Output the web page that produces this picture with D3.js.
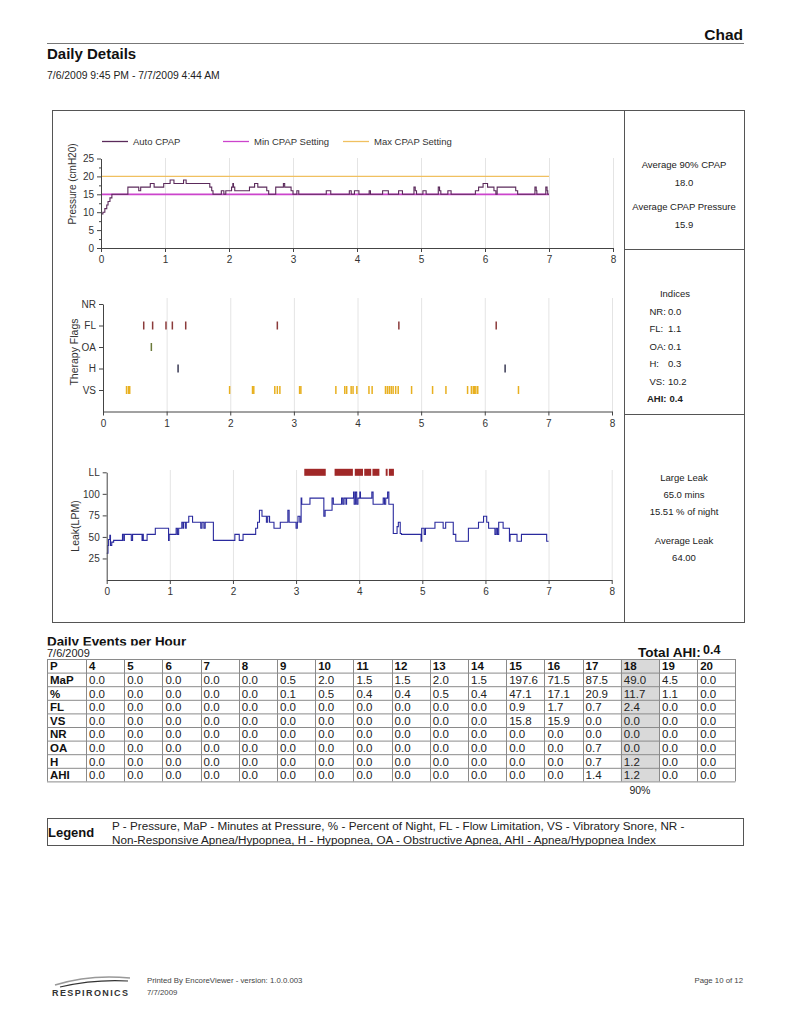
<!DOCTYPE html>
<html><head><meta charset="utf-8">
<script src="https://cdn.jsdelivr.net/npm/d3@7"></script>
<style>
body{margin:0;background:#fff}
svg{display:block}
text{font-family:"Liberation Sans",Arial,sans-serif}
</style></head>
<body><svg id="c" width="791" height="1024"></svg>
<script>
// ---------------- DATA ----------------
const pressureTime = [0,0.03,0.06,0.09,0.11,0.14,0.17,0.42,0.59,0.62,0.77,0.83,0.98,1.08,1.14,1.29,1.33,1.70,1.73,1.75,1.88,1.92,1.95,2.04,2.06,2.07,2.09,2.32,2.40,2.45,2.59,2.62,2.73,2.85,2.87,2.97,3.0,3.06,3.09,3.52,3.59,3.88,3.91,3.96,4.03,4.19,4.21,4.40,4.49,4.65,4.71,4.89,4.91,4.93,5.03,5.08,5.27,5.29,5.31,5.42,5.47,5.85,5.90,5.97,6.04,6.14,6.17,6.19,6.48,6.51,6.78,6.80,6.81,6.95,6.97,6.98,7.0];
const pressureValue = [9.5,10,11,12,13,14,15,17,16,17,18,17,18,19,18,19,18,17,16,15,16,15,16,17,18,17,16,17,18,17,16,15,17,18,17,16,15,16,15,16,15,16,15,16,15,16,15,16,15,16,15,17,16,15,16,15,17,16,15,16,15,16,17,18,17,16,15,17,16,15,17,16,15,17,16,15,15];
const minCpapSetting = 15;
const maxCpapSetting = 20;
const sessionHours = [0, 7];

const flagCategories = ["VS","H","OA","FL","NR"];
const flagFL = [0.64,0.78,0.99,1.09,1.30,2.74,4.65,6.18];
const flagOA = [0.76];
const flagH  = [1.18,6.32];
const flagNR = [];
const flagVS = [0.37,0.40,0.42,1.99,2.35,2.37,2.70,2.74,2.78,3.09,3.11,3.66,3.80,3.83,3.90,3.93,3.99,4.18,4.23,4.44,4.47,4.50,4.53,4.56,4.60,4.64,4.85,5.18,5.39,5.73,5.79,5.82,5.84,5.86,5.89,6.53];

const leakTime  = [0,0.02,0.03,0.05,0.06,0.08,0.11,0.25,0.27,0.28,0.39,0.41,0.56,0.57,0.58,0.64,0.77,0.98,0.99,1.10,1.12,1.14,1.19,1.21,1.22,1.25,1.26,1.30,1.36,1.49,1.51,1.54,1.56,1.69,2.03,2.10,2.16,2.36,2.39,2.42,2.46,2.53,2.55,2.58,2.65,2.75,2.87,2.89,3.00,3.02,3.03,3.06,3.08,3.09,3.22,3.44,3.46,3.57,3.59,3.72,3.74,3.76,3.79,3.80,3.91,3.92,3.94,3.96,3.98,4.01,4.02,4.20,4.22,4.38,4.40,4.42,4.45,4.47,4.54,4.60,4.62,4.65,4.67,4.98,4.99,5.03,5.05,5.20,5.33,5.37,5.49,5.53,5.73,5.89,5.97,6.02,6.05,6.15,6.17,6.19,6.21,6.28,6.38,6.39,6.50,6.57,6.97,7.0];
const leakValue = [31,40,47,52,40,44,46,53,46,53,46,53,46,53,46,53,60,46,53,60,53,60,67,60,67,60,67,74,67,60,67,60,67,46,53,46,53,60,67,81,74,67,74,67,60,67,81,67,60,67,74,67,95,88,95,74,81,95,88,95,88,95,88,95,102,88,102,88,95,102,95,102,88,95,88,95,102,88,54,62,67,54,53,45,60,53,60,67,60,67,53,45,60,67,74,67,60,53,60,53,67,60,45,53,45,53,45,45];
const largeLeakStart = [3.13,3.61,3.93,4.08,4.21,4.42,4.47];
const largeLeakEnd   = [3.47,3.90,4.06,4.19,4.32,4.45,4.55];

const xTicks = [0,1,2,3,4,5,6,7,8];
const pressureTicks = [0,5,10,15,20,25];
const leakTicks = [25,50,75,100,125];
const leakTickLabels = ["25","50","75","100","LL"];

const tableHours = ["4","5","6","7","8","9","10","11","12","13","14","15","16","17","18","19","20"];
const rowLabels = ["MaP","%","FL","VS","NR","OA","H","AHI"];
const rowMaP = ["0.0","0.0","0.0","0.0","0.0","0.5","2.0","1.5","1.5","2.0","1.5","197.6","71.5","87.5","49.0","4.5","0.0"];
const rowPct = ["0.0","0.0","0.0","0.0","0.0","0.1","0.5","0.4","0.4","0.5","0.4","47.1","17.1","20.9","11.7","1.1","0.0"];
const rowFL  = ["0.0","0.0","0.0","0.0","0.0","0.0","0.0","0.0","0.0","0.0","0.0","0.9","1.7","0.7","2.4","0.0","0.0"];
const rowVS  = ["0.0","0.0","0.0","0.0","0.0","0.0","0.0","0.0","0.0","0.0","0.0","15.8","15.9","0.0","0.0","0.0","0.0"];
const rowNR  = ["0.0","0.0","0.0","0.0","0.0","0.0","0.0","0.0","0.0","0.0","0.0","0.0","0.0","0.0","0.0","0.0","0.0"];
const rowOA  = ["0.0","0.0","0.0","0.0","0.0","0.0","0.0","0.0","0.0","0.0","0.0","0.0","0.0","0.7","0.0","0.0","0.0"];
const rowH   = ["0.0","0.0","0.0","0.0","0.0","0.0","0.0","0.0","0.0","0.0","0.0","0.0","0.0","0.7","1.2","0.0","0.0"];
const rowAHI = ["0.0","0.0","0.0","0.0","0.0","0.0","0.0","0.0","0.0","0.0","0.0","0.0","0.0","1.4","1.2","0.0","0.0"];
const highlightHour = "18";

// ---------------- DRAW ----------------
const svg = d3.select("#c");
const TXT = "#222";

// Header
svg.append("text").attr("x",743).attr("y",40).attr("text-anchor","end")
  .style("font-size","15.5px").style("font-weight","bold").attr("fill","#111").text("Chad");
svg.append("line").attr("x1",47).attr("x2",744).attr("y1",43.5).attr("y2",43.5).attr("stroke","#777");
svg.append("text").attr("x",47).attr("y",59).style("font-size","15px").style("font-weight","bold").attr("fill","#111").text("Daily Details");
svg.append("text").attr("x",47).attr("y",79).style("font-size","10.4px").attr("fill",TXT).text("7/6/2009 9:45 PM - 7/7/2009 4:44 AM");

// Frame
svg.append("rect").attr("x",52.5).attr("y",110.5).attr("width",692).attr("height",512).attr("fill","none").attr("stroke","#555");
svg.append("line").attr("x1",624.5).attr("x2",624.5).attr("y1",110.5).attr("y2",622.5).attr("stroke","#555");
svg.append("line").attr("x1",624.5).attr("x2",744.5).attr("y1",249.5).attr("y2",249.5).attr("stroke","#555");
svg.append("line").attr("x1",624.5).attr("x2",744.5).attr("y1",414.5).attr("y2",414.5).attr("stroke","#555");

function styleAxis(g){
  g.select(".domain").attr("stroke","#444");
  g.selectAll(".tick line").attr("stroke","#444");
  g.selectAll(".tick text").attr("fill","#333").style("font-size","10px").style("font-family","'Liberation Sans',Arial,sans-serif");
}
function grid(g, x, y0, y1){
  g.selectAll("line.grid").data(xTicks.filter(d=>d>0)).enter().append("line")
    .attr("x1",d=>x(d)+0.5).attr("x2",d=>x(d)+0.5).attr("y1",y0).attr("y2",y1)
    .attr("stroke","#e4e4e4");
}
function xAxis(x, yPos){
  const g = svg.append("g").attr("transform",`translate(0,${yPos})`)
    .call(d3.axisBottom(x).tickValues(xTicks).tickSize(4).tickSizeOuter(0).tickPadding(4));
  styleAxis(g);
}
function yTitle(label, cx, cy, fs){
  svg.append("text").attr("transform",`translate(${cx},${cy}) rotate(-90)`).attr("text-anchor","middle")
    .style("font-size",fs+"px").attr("fill","#333").text(label);
}

// ---- Pressure chart ----
const xP = d3.scaleLinear().domain([0,8]).range([101,613]);
const yP = d3.scaleLinear().domain([0,25]).range([248,158.5]);
grid(svg.append("g"), xP, 158, 248);
const legItems = [["Auto CPAP","#5b2a5b",102],["Min CPAP Setting","#cc44cc",223],["Max CPAP Setting","#f0c060",343]];
legItems.forEach(([t,c,x0])=>{
  svg.append("line").attr("x1",x0).attr("x2",x0+26).attr("y1",141.5).attr("y2",141.5).attr("stroke",c).attr("stroke-width",1.3);
  svg.append("text").attr("x",x0+31).attr("y",145).style("font-size","9.5px").attr("fill","#333").text(t);
});
svg.append("line").attr("x1",xP(sessionHours[0])).attr("x2",xP(sessionHours[1])).attr("y1",yP(maxCpapSetting)).attr("y2",yP(maxCpapSetting)).attr("stroke","#f0c060").attr("stroke-width",1.3);
svg.append("line").attr("x1",xP(sessionHours[0])).attr("x2",xP(sessionHours[1])).attr("y1",yP(minCpapSetting)).attr("y2",yP(minCpapSetting)).attr("stroke","#cc44cc").attr("stroke-width",1.8);
const pData = pressureTime.map((t,i)=>({t, v:pressureValue[i]}));
svg.append("path").datum(pData).attr("fill","none").attr("stroke","#5b2a5b").attr("stroke-width",1.1)
  .attr("d", d3.line().x(d=>xP(d.t)).y(d=>yP(d.v)).curve(d3.curveStepAfter));
{
  const g = svg.append("g").attr("transform","translate(101,0)")
    .call(d3.axisLeft(yP).tickValues(pressureTicks).tickSize(4).tickSizeOuter(0).tickPadding(3));
  styleAxis(g);
  g.selectAll("line.minor").data([2.5,7.5,12.5,17.5,22.5]).enter().append("line")
    .attr("x1",-2).attr("x2",0).attr("y1",d=>yP(d)+0.5).attr("y2",d=>yP(d)+0.5).attr("stroke","#444");
}
xAxis(xP, 248);
yTitle("Pressure (cmH20)", 76, 184, 10);

// ---- Therapy flags chart ----
const xF = d3.scaleLinear().domain([0,8]).range([103,612]);
const yFc = d3.scaleLinear().domain([0,5]).range([411.5,304]);
grid(svg.append("g"), xF, 298, 411);
const flagSets = [["FL",flagFL,"#8b3b3b"],["OA",flagOA,"#6b7a3a"],["H",flagH,"#3a3a55"],["VS",flagVS,"#e8b020"],["NR",flagNR,"#555"]];
flagSets.forEach(([cat,arr,col])=>{
  const yc = yFc(flagCategories.indexOf(cat)+1);
  svg.append("g").selectAll("rect").data(arr).enter().append("rect")
    .attr("x",d=>xF(d)-0.75).attr("y",yc-4).attr("width",1.5).attr("height",8).attr("fill",col);
});
{
  const g = svg.append("g").attr("transform","translate(103,0)")
    .call(d3.axisLeft(yFc).tickValues([1,2,3,4,5]).tickFormat(d=>flagCategories[d-1]).tickSize(4).tickSizeOuter(0).tickPadding(3));
  styleAxis(g);
}
xAxis(xF, 411.5);
yTitle("Therapy Flags", 77.5, 352, 10.5);

// ---- Leak chart ----
const xL = d3.scaleLinear().domain([0,8]).range([106.7,611.7]);
const yL = d3.scaleLinear().domain([0,125]).range([580,472.3]);
grid(svg.append("g"), xL, 470, 580);
svg.append("g").selectAll("rect").data(largeLeakStart).enter().append("rect")
  .attr("x",(d)=>xL(d)).attr("width",(d,i)=>xL(largeLeakEnd[i])-xL(d))
  .attr("y",yL(125)-3.5).attr("height",7).attr("fill","#a02828");
const lData = leakTime.map((t,i)=>({t, v:leakValue[i]}));
svg.append("path").datum(lData).attr("fill","none").attr("stroke","#2a2a9e").attr("stroke-width",1.1)
  .attr("d", d3.line().x(d=>xL(d.t)).y(d=>yL(d.v)).curve(d3.curveStepAfter));
{
  const g = svg.append("g").attr("transform","translate(106.7,0)")
    .call(d3.axisLeft(yL).tickValues(leakTicks).tickFormat((d,i)=>leakTickLabels[i]).tickSize(4).tickSizeOuter(0).tickPadding(3));
  styleAxis(g);
}
xAxis(xL, 580);
yTitle("Leak(LPM)", 79, 526, 10.5);

// ---- Right panel texts ----
const cx = 684;
function rtext(t,y,bold){ svg.append("text").attr("x",cx).attr("y",y).attr("text-anchor","middle")
  .style("font-size","9.5px").style("font-weight",bold?"bold":"normal").attr("fill",TXT).text(t); }
rtext("Average 90% CPAP",168); rtext("18.0",186);
rtext("Average CPAP Pressure",210); rtext("15.9",228);
svg.append("text").attr("x",675).attr("y",297).attr("text-anchor","middle").style("font-size","9.5px").attr("fill",TXT).text("Indices");
const idxLabels = ["NR:","FL:","OA:","H:","VS:","AHI:"];
const idxValues = ["0.0","1.1","0.1","0.3","10.2","0.4"];
idxLabels.forEach((l,i)=>{
  const y = 315 + i*17.4; const b = l==="AHI:";
  svg.append("text").attr("x",b?647:649.5).attr("y",y).style("font-size","9.5px").style("font-weight",b?"bold":"normal").attr("fill",TXT).text(l);
  svg.append("text").attr("x",b?669.5:668).attr("y",y).style("font-size","9.5px").style("font-weight",b?"bold":"normal").attr("fill",TXT).text(idxValues[i]);
});
rtext("Large Leak",481); rtext("65.0 mins",498); rtext("15.51 % of night",515);
rtext("Average Leak",544); rtext("64.00",561);

// ---- Table ----
svg.append("clipPath").attr("id","hclip").append("rect").attr("x",0).attr("y",600).attr("width",791).attr("height",45.5);
svg.append("text").attr("x",47).attr("y",646).attr("clip-path","url(#hclip)").style("font-size","13.4px").style("font-weight","bold").attr("fill","#111").text("Daily Events per Hour");
svg.append("text").attr("x",47).attr("y",657).style("font-size","11px").attr("fill",TXT).text("7/6/2009");
svg.append("text").attr("x",638).attr("y",657).style("font-size","13.6px").style("font-weight","bold").attr("fill","#111").text("Total AHI:");
svg.append("text").attr("x",703).attr("y",654).style("font-size","12.5px").style("font-weight","bold").attr("fill","#111").text("0.4");

const T0x = 47, T0y = 659, labW = 39, colW = 38.2, cellH = 13.6;
const rows = [rowMaP,rowPct,rowFL,rowVS,rowNR,rowOA,rowH,rowAHI];
const tg = svg.append("g");
const hi = tableHours.indexOf(highlightHour);
tg.append("rect").attr("x",T0x+labW+hi*colW).attr("y",T0y).attr("width",colW).attr("height",cellH*9).attr("fill","#d9d9d9");
const header = ["P"].concat(tableHours);
header.forEach((h,j)=>{
  const x = j===0?T0x:T0x+labW+(j-1)*colW;
  tg.append("text").attr("x",x+3).attr("y",T0y+11.3).style("font-size","11.5px").style("font-weight","bold").attr("fill","#111").text(h);
});
rows.forEach((r,i)=>{
  const y = T0y+cellH*(i+1);
  tg.append("text").attr("x",T0x+3).attr("y",y+11.3).style("font-size","11.5px").style("font-weight","bold").attr("fill","#111").text(rowLabels[i]);
  r.forEach((v,j)=>{
    tg.append("text").attr("x",T0x+labW+j*colW+3).attr("y",y+11.3).style("font-size","11.5px").attr("fill",TXT).text(v);
  });
});
for(let i=0;i<=9;i++){
  tg.append("line").attr("x1",T0x).attr("x2",T0x+labW+17*colW).attr("y1",T0y+i*cellH+0.5).attr("y2",T0y+i*cellH+0.5).attr("stroke","#8a8a8a");
}
for(let j=0;j<=18;j++){
  const x = j===0?T0x:T0x+labW+(j-1)*colW;
  tg.append("line").attr("x1",Math.round(x)+0.5).attr("x2",Math.round(x)+0.5).attr("y1",T0y).attr("y2",T0y+9*cellH).attr("stroke","#8a8a8a");
}
svg.append("text").attr("x",T0x+labW+hi*colW+colW/2).attr("y",794).attr("text-anchor","middle").style("font-size","10.5px").attr("fill",TXT).text("90%");

// ---- Legend box ----
svg.append("rect").attr("x",47.5).attr("y",818.5).attr("width",696).attr("height",27).attr("fill","none").attr("stroke","#555");
svg.append("text").attr("x",48).attr("y",837).style("font-size","13px").style("font-weight","bold").attr("fill","#111").text("Legend");
svg.append("text").attr("x",112).attr("y",830).style("font-size","11.7px").attr("fill",TXT).text("P - Pressure, MaP - Minutes at Pressure, % - Percent of Night, FL - Flow Limitation, VS - Vibratory Snore, NR -");
svg.append("text").attr("x",112).attr("y",843.5).style("font-size","11.7px").attr("fill",TXT).text("Non-Responsive Apnea/Hypopnea, H - Hypopnea, OA - Obstructive Apnea, AHI - Apnea/Hypopnea Index");

// ---- Footer ----
svg.append("path").attr("d","M55,985 Q90,974 130,978").attr("fill","none").attr("stroke","#999").attr("stroke-width",1.5);
svg.append("path").attr("d","M60,987 Q95,979 128,981").attr("fill","none").attr("stroke","#333").attr("stroke-width",1.2);
svg.append("text").attr("x",52).attr("y",996).style("font-size","9px").style("font-weight","bold").style("letter-spacing","1.4px").attr("fill","#333").text("RESPIRONICS");
svg.append("text").attr("x",147).attr("y",983).style("font-size","7.8px").attr("fill","#444").text("Printed By  EncoreViewer - version: 1.0.0.003");
svg.append("text").attr("x",147).attr("y",995).style("font-size","7.8px").attr("fill","#444").text("7/7/2009");
svg.append("text").attr("x",743).attr("y",983).attr("text-anchor","end").style("font-size","7.8px").attr("fill","#444").text("Page 10 of 12");
</script></body></html>
